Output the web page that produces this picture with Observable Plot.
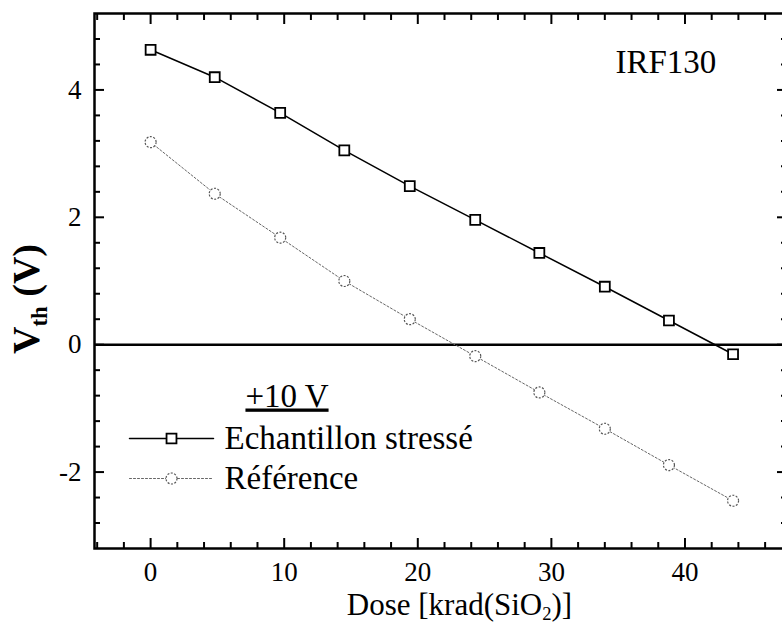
<!DOCTYPE html>
<html><head><meta charset="utf-8">
<script src="https://cdn.jsdelivr.net/npm/d3@7"></script>
<script src="https://cdn.jsdelivr.net/npm/@observablehq/plot@0.6"></script>
<style>
html,body{margin:0;padding:0;background:#fff;overflow:hidden}
</style></head><body><div id="chart"></div>
<script>
// ---- data ----
const dose = [0, 4.8, 9.7, 14.5, 19.4, 24.3, 29.1, 34.0, 38.8, 43.6];
const vthStressed = [4.63, 4.20, 3.64, 3.05, 2.49, 1.96, 1.44, 0.91, 0.38, -0.15];
const vthReference = [3.18, 2.37, 1.68, 1.00, 0.40, -0.18, -0.75, -1.32, -1.89, -2.45];
const xMajorTicks = [0, 10, 20, 30, 40];
const xMinorTicks = [-4, -2, 2, 4, 6, 8, 12, 14, 16, 18, 22, 24, 26, 28, 32, 34, 36, 38, 42, 44, 46];
const yMajorTicks = [-2, 0, 2, 4];
const yMinorTicks = [-2.8, -2.4, -1.6, -1.2, -0.8, -0.4, 0.4, 0.8, 1.2, 1.6, 2.4, 2.8, 3.2, 3.6, 4.4, 4.8];
const seriesNames = ["Echantillon stressé", "Référence"];
const legendTitle = "+10 V";
const annotation = "IRF130";
const xLabel = "Dose [krad(SiO2)]";
const yLabel = "Vth (V)";

const stressed = dose.map((d, i) => ({dose: d, v: vthStressed[i]}));
const reference = dose.map((d, i) => ({dose: d, v: vthReference[i]}));

const fontFamily = "'Liberation Serif', 'Times New Roman', serif";
const lineShape = {draw(context, l) { context.moveTo(0, 0); context.lineTo(0, -l); }};
const fmt = d => String(d);

const chart = Plot.plot({
  width: 782, height: 635,
  marginLeft: 94, marginRight: -4, marginTop: 13, marginBottom: 87,
  style: {fontFamily, background: "white", color: "black"},
  x: {domain: [-4.2, 47.6], label: null},
  y: {domain: [-3.2, 5.2], label: null},
  marks: [
    Plot.ruleY([0], {stroke: "black", strokeWidth: 2.5}),
    // tick labels
    Plot.axisX(xMajorTicks, {anchor: "bottom", tickSize: 0, tickPadding: 13, fontSize: 27, tickFormat: fmt, label: null}),
    Plot.axisY(yMajorTicks, {anchor: "left", tickSize: 0, tickPadding: 13, fontSize: 27, tickFormat: fmt, label: null}),
    // inward ticks on all four sides
    ...["bottom", "top"].flatMap(a => [
      Plot.axisX(xMajorTicks, {anchor: a, tickSize: -10, strokeWidth: 2, fill: "none", label: null}),
      Plot.axisX(xMinorTicks, {anchor: a, tickSize: -6, strokeWidth: 2, fill: "none", label: null})
    ]),
    ...["left", "right"].flatMap(a => [
      Plot.axisY(yMajorTicks, {anchor: a, tickSize: -10, strokeWidth: 2, fill: "none", label: null}),
      Plot.axisY(yMinorTicks, {anchor: a, tickSize: -6, strokeWidth: 2, fill: "none", label: null})
    ]),
    Plot.frame({stroke: "black", strokeWidth: 2.5}),
    // series
    Plot.line(reference, {x: "dose", y: "v", stroke: "#666", strokeWidth: 1, strokeDasharray: "2,2"}),
    Plot.dot(reference, {x: "dose", y: "v", r: 5.5, fill: "white", stroke: "#555", strokeWidth: 1.2, strokeDasharray: "2,1.5"}),
    Plot.line(stressed, {x: "dose", y: "v", stroke: "black", strokeWidth: 1.5}),
    Plot.dot(stressed, {x: "dose", y: "v", symbol: "square", r: 5.6, fill: "white", stroke: "black", strokeWidth: 1.8}),
    // annotation
    Plot.text([annotation], {text: d => d, frameAnchor: "top-left", dx: 521, dy: 59, textAnchor: "start", lineAnchor: "bottom", fontSize: 33}),
    // legend
    Plot.text([legendTitle], {text: d => d, frameAnchor: "top-left", dx: 192.5, dy: 393, textAnchor: "middle", lineAnchor: "bottom", fontSize: 33}),
    Plot.vector([seriesNames[0]], {frameAnchor: "top-left", dx: 35, dy: 425, rotate: 90, length: 84, anchor: "start", shape: lineShape, stroke: "black", strokeWidth: 1.5}),
    Plot.dot([seriesNames[0]], {frameAnchor: "top-left", dx: 77, dy: 425, symbol: "square", r: 5.6, fill: "white", stroke: "black", strokeWidth: 1.8}),
    Plot.text([seriesNames[0]], {text: d => d, frameAnchor: "top-left", dx: 130, dy: 425, textAnchor: "start", lineAnchor: "middle", fontSize: 33}),
    Plot.vector([seriesNames[1]], {frameAnchor: "top-left", dx: 35, dy: 465, rotate: 90, length: 84, anchor: "start", shape: lineShape, stroke: "#666", strokeWidth: 1, strokeDasharray: "2,2"}),
    Plot.dot([seriesNames[1]], {frameAnchor: "top-left", dx: 77, dy: 465, r: 5.5, fill: "white", stroke: "#555", strokeWidth: 1.2, strokeDasharray: "2,1.5"}),
    Plot.text([seriesNames[1]], {text: d => d, frameAnchor: "top-left", dx: 130, dy: 465, textAnchor: "start", lineAnchor: "middle", fontSize: 33}),
    // axis titles
    Plot.text([xLabel], {text: d => d, frameAnchor: "bottom", dx: 19, dy: 66, textAnchor: "middle", lineAnchor: "bottom", fontSize: 31}),
    Plot.text([yLabel], {text: d => d, frameAnchor: "left", dx: -67.5, dy: 18, rotate: -90, textAnchor: "middle", lineAnchor: "middle", fontSize: 38, fontWeight: "bold"})
  ]
});
document.getElementById("chart").appendChild(chart);

// rich text: subscripts and underline
const svg = d3.select(chart);
function subscriptify(full, main, sub, rest, scale, shift) {
  svg.selectAll("text").filter(function() { return this.textContent === full; }).each(function() {
    const t = d3.select(this);
    t.text(null);
    t.append("tspan").text(main);
    t.append("tspan").attr("font-size", scale + "em").attr("dy", shift + "em").text(sub);
    t.append("tspan").attr("dy", (-shift * scale) + "em").text(rest);
  });
}
subscriptify(xLabel, "Dose [krad(SiO", "2", ")]", 0.6, 0.3);
subscriptify(yLabel, "V", "th", " (V)", 0.6, 0.35);
svg.selectAll("text").filter(function() { return this.textContent === legendTitle; })
  .attr("text-decoration", "underline");
</script></body></html>
